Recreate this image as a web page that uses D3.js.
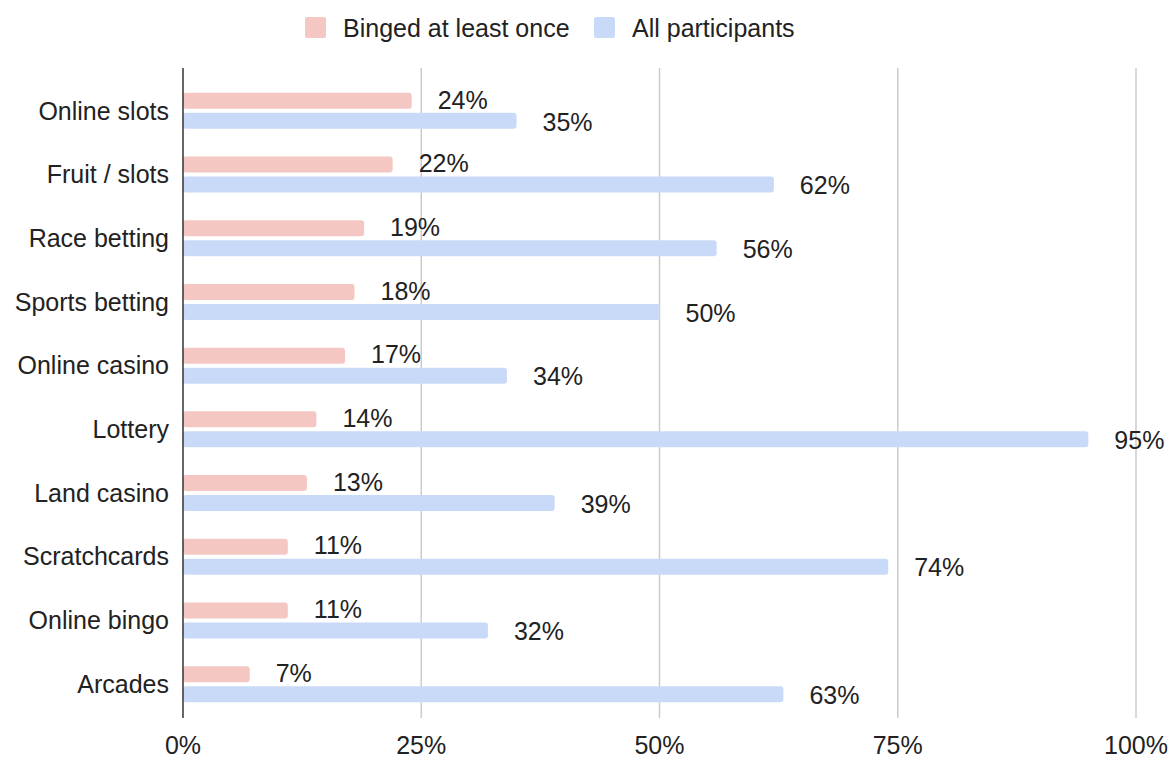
<!DOCTYPE html>
<html>
<head>
<meta charset="utf-8">
<script src="https://cdn.jsdelivr.net/npm/d3@7"></script>
<style>
  body { margin: 0; background: #fff; }
  svg { font-family: "Liberation Sans", Arial, sans-serif; }
</style>
</head>
<body>
<div id="main"></div>
<script>
// chart data
const categories = ['Online slots', 'Fruit / slots', 'Race betting', 'Sports betting', 'Online casino',
  'Lottery', 'Land casino', 'Scratchcards', 'Online bingo', 'Arcades'];
const binged = [24, 22, 19, 18, 17, 14, 13, 11, 11, 7];
const allParticipants = [35, 62, 56, 50, 34, 95, 39, 74, 32, 63];
const seriesNames = ['Binged at least once', 'All participants'];
const seriesColors = ['#f4c7c3', '#c9daf8'];
const tickValues = [0, 25, 50, 75, 100];

function main() {
  const width = 1173;
  const height = 760;
  const fontSize = 25;
  const svg = d3.select('#main').append('svg')
    .attr('width', width)
    .attr('height', height);

  // scales
  const x = d3.scaleLinear().domain([0, 100]).range([183, 1136]);
  const y = d3.scaleBand().domain(categories).range([79, 716]).paddingInner(0).paddingOuter(0);
  const sub = d3.scaleBand().domain([0, 1]).range([y.bandwidth() / 2 - 18, y.bandwidth() / 2 + 18]).paddingInner(0.2);

  // gridlines
  svg.append('g').selectAll('line')
    .data(tickValues.slice(1))
    .enter().append('line')
    .attr('x1', d => x(d)).attr('x2', d => x(d))
    .attr('y1', 68).attr('y2', 718)
    .attr('stroke', '#cccccc')
    .attr('stroke-width', 1.5);

  // bars
  const rows = svg.append('g').selectAll('g')
    .data(categories)
    .enter().append('g')
    .attr('transform', d => `translate(0,${y(d)})`);

  const series = [binged, allParticipants];
  series.forEach((vals, s) => {
    rows.append('rect')
      .attr('x', x(0))
      .attr('y', sub(s))
      .attr('width', (d, i) => x(vals[i]) - x(0))
      .attr('height', sub.bandwidth())
      .attr('rx', 3)
      .attr('fill', seriesColors[s]);
    rows.append('text')
      .attr('x', (d, i) => x(vals[i]) + 26)
      .attr('y', sub(s) + sub.bandwidth() / 2 + (s === 0 ? -1 : 1))
      .attr('dy', '0.35em')
      .attr('font-size', fontSize)
      .attr('fill', '#222')
      .text((d, i) => `${vals[i]}%`);
  });

  // category labels
  rows.append('text')
    .attr('x', 169)
    .attr('y', y.bandwidth() / 2)
    .attr('dy', '0.35em')
    .attr('text-anchor', 'end')
    .attr('font-size', fontSize)
    .attr('fill', '#222')
    .text(d => d);

  // zero axis line
  svg.append('line')
    .attr('x1', x(0)).attr('x2', x(0))
    .attr('y1', 68).attr('y2', 718)
    .attr('stroke', '#333')
    .attr('stroke-width', 1.5);

  // x tick labels
  svg.append('g').selectAll('text')
    .data(tickValues)
    .enter().append('text')
    .attr('x', d => x(d))
    .attr('y', 754)
    .attr('text-anchor', 'middle')
    .attr('font-size', fontSize)
    .attr('fill', '#222')
    .text(d => `${d}%`);

  // legend
  const legendX = [305, 594];
  const legend = svg.append('g').selectAll('g')
    .data(seriesNames)
    .enter().append('g')
    .attr('transform', (d, i) => `translate(${legendX[i]},17)`);
  legend.append('rect')
    .attr('width', 21).attr('height', 21)
    .attr('rx', 2)
    .attr('fill', (d, i) => seriesColors[i]);
  legend.append('text')
    .attr('x', 38)
    .attr('y', 11)
    .attr('dy', '0.35em')
    .attr('font-size', fontSize)
    .attr('fill', '#222')
    .text(d => d);
}
document.addEventListener('DOMContentLoaded', main);
</script>
</body>
</html>
